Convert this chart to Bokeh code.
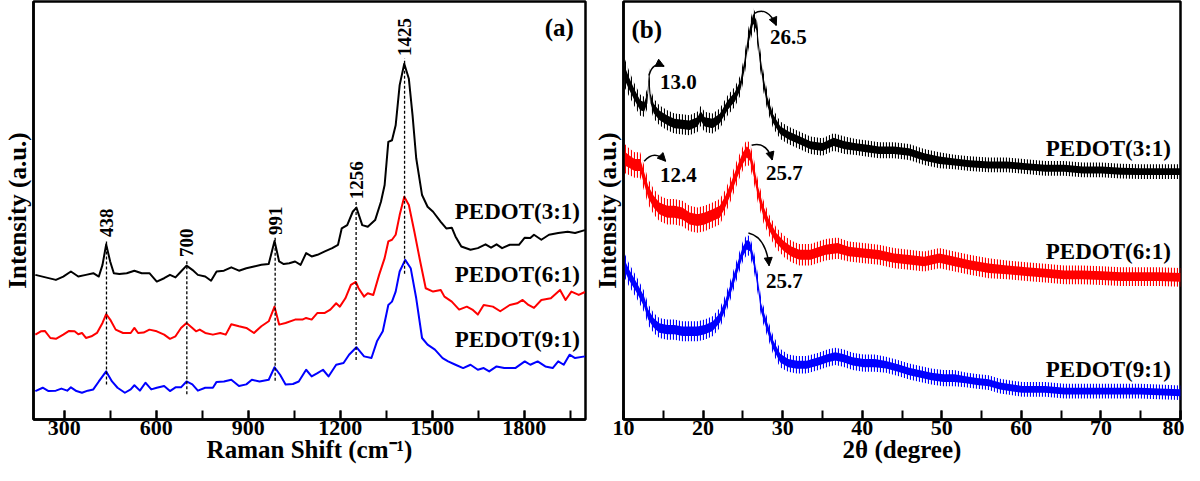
import numpy as np
from bokeh.plotting import figure
from bokeh.layouts import row
from bokeh.models import Range1d, SingleIntervalTicker, FixedTicker, Arrow, NormalHead
from bokeh.core.properties import value
from bokeh.embed import file_html
from bokeh.resources import INLINE

FONT = "Liberation Serif"
samples = ["PEDOT(3:1)", "PEDOT(6:1)", "PEDOT(9:1)"]
colors = ["#000000", "#ff0000", "#0000ff"]

# ---------------- Panel (a): Raman ----------------
raman_x_31 = [206,273,297,322,346,371,395,413,425,437, 450,462,480,504,529,553,578,602,626,645,
              663,681,699,718,736,760,779,797,821,845, 870,894,919,943,967,986,1001,1016,1034,1053,
              1071,1089,1107,1126,1150,1174,1193,1205,1223,1241, 1253,1272,1290,1314,1333,1345,1357,1369,1381,1394,
              1409,1424,1436,1448,1467,1485,1503,1528,1546,1564, 1576,1595,1625,1649,1674,1692,1710,1728,1753,1783,
              1802,1820,1832,1856,1881,1911,1942,1966,1998]
raman_y_31 = [34.6,33.4,34.2,35.4,34.2,34.6,35.0,34.2,37.0,41.9, 37.8,35.0,34.8,35.0,35.6,35.0,35.0,33.0,33.8,34.6,
              34.0,35.4,36.8,35.8,34.6,34.2,33.2,35.4,35.6,36.4, 35.6,36.2,36.6,37.0,37.2,42.7,37.8,37.2,37.4,37.8,
              37.0,39.8,39.0,39.4,40.2,41.0,41.8,45.7,46.5,49.7, 50.7,46.5,46.1,47.7,52.1,56.1,66.4,66.8,70.4,80.0,
              85.1,81.5,72.8,62.5,53.7,50.9,49.7,47.3,45.7,45.9, 43.8,41.4,40.6,41.0,41.9,41.1,41.9,41.0,41.8,41.8,
              43.5,43.4,44.2,43.0,44.2,44.6,44.9,44.6,45.3]

raman_x_61 = [206,224,237,255,273,297,316,334,346,358, 371,389,407,425,437,450,468,492,517,529,
              541,559,578,602,626,645,663,681,699,718, 730,742,760,785,809,827,845,870,894,919,
              943,967,986,1001,1022,1053,1077,1089,1107,1126, 1150,1168,1187,1199,1217,1235,1251,1260,1278,1290,
              1308,1327,1345,1357,1369,1381,1394,1409,1424,1442, 1461,1479,1503,1528,1540,1564,1588,1613,1631,1649,
              1668,1698,1722,1753,1777,1795,1814,1832,1856,1887, 1917,1935,1954,1978,1998]
raman_y_61 = [20.3,21.1,21.2,19.5,19.3,20.3,21.2,21.1,20.4,20.7, 19.5,19.9,20.7,23.1,25.2,23.9,21.5,20.7,20.7,21.9,
              20.7,20.8,21.5,21.1,20.3,19.3,19.9,21.9,23.1,21.9, 21.1,21.5,20.7,20.3,20.7,20.3,22.8,22.3,21.9,20.7,
              22.3,23.5,27.0,22.7,23.1,23.9,23.9,24.3,23.9,25.5, 25.5,26.3,27.8,27.0,29.0,32.2,32.9,31.4,29.4,30.2,
              29.8,34.6,38.6,42.6,43.0,44.2,48.9,53.3,51.3,44.9, 37.8,31.4,30.6,31.0,29.4,28.2,26.3,27.0,26.3,25.1,
              27.4,27.0,25.9,27.4,27.8,28.6,27.4,26.7,28.6,29.0, 31.0,28.6,30.6,29.8,30.5]

raman_x_91 = [206,230,249,273,291,310,322,340,358,377, 395,413,437,456,474,498,517,529,547,565,
              584,602,626,645,663,681,699,718,736,760, 785,797,821,845,870,894,912,937,967,986,
              1004,1022,1046,1065,1089,1107,1126,1144,1162,1187, 1211,1229,1253,1278,1302,1320,1339,1357,1369,1381,
              1394,1412,1430,1448,1467,1485,1509,1534,1552,1576, 1601,1625,1649,1668,1686,1710,1735,1771,1802,1820,
              1844,1869,1893,1911,1929,1948,1966,1998]
raman_y_91 = [6.8,7.6,6.8,6.9,7.4,6.9,7.7,6.8,6.4,6.9, 7.2,9.1,11.5,9.1,7.6,6.4,7.2,8.2,6.9,8.8,
              7.2,7.6,8.0,6.8,7.7,7.7,9.1,8.4,6.9,7.6, 7.6,9.0,9.1,9.5,8.0,8.4,9.5,9.1,9.5,12.5,
              10.7,8.4,8.5,9.1,11.9,10.3,11.1,11.9,10.3,13.1, 13.5,15.5,17.3,15.1,14.7,18.7,21.1,27.4,28.2,30.6,
              35.4,38.2,36.2,29.0,19.5,17.9,16.7,14.7,13.9,13.1, 12.3,13.1,11.9,12.3,11.5,12.7,12.3,12.3,13.9,13.1,
              13.9,12.7,12.3,13.9,13.1,15.5,14.7,15.1]

raman_peak_pos = [438, 700, 988, 1252, 1410]
raman_peak_labels = ["438", "700", "991", "1256", "1425"]
raman_label_y = [49.7, 34.6, 19.1]

# ---------------- Panel (b): XRD ----------------
xrd_x_31 = [10.1,10.7,11.4,12.1,12.6,13.0,13.2,13.4,13.8,14.5, 15.5,16.4,17.4,18.3,19.3,19.7,20.2,21.2,22.1,23.1,
            24.0,24.7,25.2,25.7,26.3,26.7,27.1,27.6,28.1,28.8, 29.7,30.7,32.1,33.5,35.0,36.4,37.8,39.2,40.7,42.1,
            44.0,45.9,47.8,49.7,51.6,53.5,55.9,58.2,60.6,63.0, 65.4,67.7,70.1,72.5,74.9,77.3,80.0]
xrd_y_31 = [83.1,80.4,77.6,75.2,74.8,76.8,81.9,76.8,74.4,72.8, 71.6,70.8,70.6,70.4,71.2,72.6,71.2,70.8,72.0,75.2,
            77.2,80.0,84.7,91.1,95.9,94.3,87.1,80.7,76.0,72.0, 69.2,68.0,66.8,65.6,65.2,66.4,65.6,65.2,64.8,64.4,
            64.4,64.0,62.8,62.0,61.6,61.2,60.9,60.9,60.5,60.1, 60.1,59.7,59.7,59.4,59.3,59.3,59.3]
xrd_n_31 = [2.2,1.9,1.7,1.6,1.5,1.5,1.5,1.5,1.5,1.5, 1.5,1.5,1.5,1.5,1.5,1.5,1.5,1.5,1.5,1.5,
            1.5,1.5,1.6,1.6,1.6,1.6,1.6,1.5,1.4,1.4, 1.3,1.3,1.3,1.3,1.3,1.3,1.3,1.2,1.2,1.2,
            1.2,1.2,1.2,1.2,1.1,1.1,1.1,1.1,1.1,1.1, 1.1,1.1,1.1,1.1,1.1,1.1,1.1]

xrd_x_61 = [10.1,10.7,11.4,12.1,12.6,13.1,13.8,14.5, 15.5,16.4,17.4,18.3,19.3,20.2,21.2,22.1,22.8,23.5,24.3,25.0,
            25.5,25.9,26.4,26.9,27.6,28.3,29.2,30.2,31.1,32.1, 33.5,35.4,36.9,38.3,40.2,42.1,44.0,45.9,47.8,49.7,
            51.6,53.5,55.9,58.2,60.6,63.0,65.4,67.7,70.1,72.5, 74.9,77.3,80.0]
xrd_y_61 = [62.5,61.7,60.9,60.9,57.7,54.5,52.1,50.5, 49.7,49.7,49.3,48.1,47.7,48.1,48.9,49.7,52.1,55.3,59.3,62.5,
            64.0,63.2,59.3,54.5,49.7,46.5,43.4,41.4,40.2,39.4, 39.4,40.6,41.0,40.2,39.8,39.4,38.6,38.2,37.8,38.6,
            37.8,37.0,36.2,35.8,35.4,35.0,34.6,34.6,34.4,34.2, 34.2,34.2,34.0]
xrd_n_61 = [2.2,2.0,1.9,1.9,1.9,1.9,1.9,1.9, 1.9,1.9,1.9,1.9,1.9,1.9,1.9,1.9,1.8,1.8,1.8,1.8,
            1.8,1.8,1.8,1.7,1.7,1.6,1.6,1.6,1.6,1.6, 1.6,1.6,1.6,1.5,1.5,1.5,1.5,1.5,1.5,1.5,
            1.5,1.5,1.5,1.4,1.4,1.4,1.4,1.4,1.4,1.4, 1.4,1.4,1.4]

xrd_x_91 = [10.1,10.7,11.7,12.6,13.1,13.8,14.5,15.5,16.4,17.4, 18.3,19.3,20.2,21.2,22.1,22.8,23.5,24.3,25.0,25.5,
            25.9,26.4,26.9,27.3,28.1,28.8,29.7,30.7,31.8,33.0, 34.5,35.7,36.6,37.6,38.8,40.2,41.6,43.0,44.5,45.9,
            47.3,48.7,50.2,51.6,53.0,54.4,55.9,57.3,58.7,60.1, 63.0,65.4,67.7,70.1,72.5,74.9,77.3,80.0]
xrd_y_91 = [37.0,34.6,31.4,28.2,25.1,23.1,21.9,21.5,21.5,21.1, 21.1,21.1,21.5,22.3,24.3,27.4,31.4,36.2,40.2,41.8,
            41.4,37.8,32.2,26.7,21.9,17.9,14.7,13.5,13.1,13.1, 13.9,14.7,15.1,14.7,13.9,13.5,13.5,13.1,12.3,11.5,
            10.9,10.3,9.9,9.9,9.5,9.1,8.8,8.0,7.6,7.2, 7.2,6.8,6.8,6.8,6.8,6.8,6.6,6.4]
xrd_n_91 = [1.8,1.7,1.6,1.6,1.6,1.5,1.5,1.5,1.5,1.5, 1.5,1.5,1.5,1.5,1.5,1.5,1.5,1.5,1.5,1.5,
            1.5,1.5,1.5,1.4,1.4,1.4,1.4,1.3,1.3,1.3, 1.3,1.3,1.3,1.3,1.3,1.3,1.3,1.2,1.2,1.2,
            1.2,1.2,1.2,1.2,1.1,1.1,1.1,1.1,1.1,1.1, 1.1,1.1,1.1,1.1,1.1,1.1,1.1,1.1]

xrd_label_y = [64.8, 40.2, 11.9]
# annotations: text, arrow start (x, y), arrow control (x, y), arrow end (x, y), text anchor (x, y)
xrd_ann_text = ["13.0", "26.5", "12.4", "25.7", "25.7"]
xrd_ann_start = [(13.2, 82.3), (26.4, 97.1), (12.6, 61.8), (26.1, 65.6), (25.7, 44.6)]
xrd_ann_ctrl = [(13.7, 85.8), (28.1, 99.0), (13.9, 64.6), (28.0, 66.6), (27.9, 43.6)]
xrd_ann_end = [(15.1, 84.5), (29.2, 94.3), (15.3, 61.8), (28.7, 62.1), (28.3, 36.8)]
xrd_ann_pos = [(14.6, 80.8), (28.4, 91.5), (14.6, 58.6), (27.9, 58.9), (27.9, 33.1)]


def style(p, xlabel, interval):
    p.grid.visible = False
    p.outline_line_color = "black"
    p.outline_line_width = 2.5
    p.background_fill_color = "white"
    p.border_fill_color = "white"
    xa = p.xaxis[0]
    xa.ticker = SingleIntervalTicker(interval=interval, num_minor_ticks=2)
    xa.major_tick_in = 9
    xa.major_tick_out = 0
    xa.minor_tick_in = 9
    xa.minor_tick_out = 0
    xa.major_tick_line_width = 2
    xa.minor_tick_line_width = 2
    xa.axis_line_width = 2.5
    xa.major_label_text_font = FONT
    xa.major_label_text_font_style = "bold"
    xa.major_label_text_font_size = "22px"
    xa.major_label_text_color = "black"
    xa.major_label_standoff = 1
    xa.axis_label = xlabel
    xa.axis_label_text_font = FONT
    xa.axis_label_text_font_style = "bold"
    xa.axis_label_text_font_size = "25px"
    xa.axis_label_text_color = "black"
    xa.axis_label_standoff = -2
    ya = p.yaxis[0]
    ya.ticker = FixedTicker(ticks=[])
    ya.major_tick_line_color = None
    ya.minor_tick_line_color = None
    ya.major_label_standoff = 0
    ya.axis_line_width = 2.5
    ya.axis_label = "Intensity (a.u.)"
    ya.axis_label_text_font = FONT
    ya.axis_label_text_font_style = "bold"
    ya.axis_label_text_font_size = "25px"
    ya.axis_label_text_color = "black"
    ya.axis_label_standoff = 3


def txt(p, x, y, t, size, align="left", baseline="middle", angle=0.0):
    p.text(x=x, y=y, text=t, angle=angle, text_font=value(FONT), text_font_style="bold",
           text_font_size=size, text_align=align, text_baseline=baseline, text_color="black")


# ---------- figure (a)
p1 = figure(width=590, height=465, x_range=Range1d(200, 2000), y_range=Range1d(0, 100),
            output_backend="svg", toolbar_location=None,
            min_border_left=0, min_border_right=5, min_border_top=1, min_border_bottom=0)
style(p1, "Raman Shift (cm\u207b\u00b9)", 300)

raman_sets = [(raman_x_31, raman_y_31), (raman_x_61, raman_y_61), (raman_x_91, raman_y_91)]
for (xs, ys), c in zip(raman_sets, colors):
    p1.line(xs, ys, line_color=c, line_width=2, line_join="round")

tops = [float(np.interp(px, raman_x_31, raman_y_31)) + 1.5 for px in raman_peak_pos]
bots = [float(np.interp(px, raman_x_91, raman_y_91)) - 3.0 for px in raman_peak_pos]
p1.segment(x0=raman_peak_pos, y0=bots, x1=raman_peak_pos, y1=tops,
           line_color="black", line_width=1.3, line_dash="3 2")
txt(p1, raman_peak_pos, [t + 0.6 for t in tops], raman_peak_labels, "19px", align="left",
    baseline="middle", angle=np.pi / 2)
txt(p1, [1982] * 3, raman_label_y, samples, "23px", align="right")
txt(p1, [1962], [97.0], ["(a)"], "25px", align="right", baseline="top")

# ---------- figure (b)
p2 = figure(width=594, height=465, x_range=Range1d(10, 80), y_range=Range1d(0, 100),
            output_backend="svg", toolbar_location=None,
            min_border_left=0, min_border_right=4, min_border_top=1, min_border_bottom=0)
style(p2, "2\u03b8 (degree)", 10)

xrd_sets = [(xrd_x_31, xrd_y_31, xrd_n_31), (xrd_x_61, xrd_y_61, xrd_n_61), (xrd_x_91, xrd_y_91, xrd_n_91)]
for (xs, ys, ns), c in zip(xrd_sets, colors):
    lo_out = [y - 1.6 * n for y, n in zip(ys, ns)]
    hi_out = [y + 1.6 * n for y, n in zip(ys, ns)]
    p2.varea(x=xs, y1=lo_out, y2=hi_out, fill_alpha=0, hatch_pattern="vertical_line",
             hatch_color=c, hatch_scale=3, hatch_weight=1.2)
    lo = [y - 0.75 * n for y, n in zip(ys, ns)]
    hi = [y + 0.75 * n for y, n in zip(ys, ns)]
    p2.varea(x=xs, y1=lo, y2=hi, fill_color=c)

for s, cc, e in zip(xrd_ann_start, xrd_ann_ctrl, xrd_ann_end):
    p2.quadratic(x0=[s[0]], y0=[s[1]], x1=[e[0]], y1=[e[1]], cx=[cc[0]], cy=[cc[1]],
                 line_color="black", line_width=1.5)
    p2.add_layout(Arrow(end=NormalHead(size=8, fill_color="black", line_color="black"),
                        x_start=cc[0] + (e[0] - cc[0]) * 0.8, y_start=cc[1] + (e[1] - cc[1]) * 0.8,
                        x_end=e[0], y_end=e[1], line_alpha=0))
txt(p2, [pp[0] for pp in xrd_ann_pos], [pp[1] for pp in xrd_ann_pos], xrd_ann_text, "21px")
txt(p2, [78.8] * 3, xrd_label_y, samples, "23px", align="right")
txt(p2, [11.0], [96.5], ["(b)"], "25px", align="left", baseline="top")

layout = row(p1, p2, spacing=0)
open("out.html", "w").write(file_html(layout, INLINE))
